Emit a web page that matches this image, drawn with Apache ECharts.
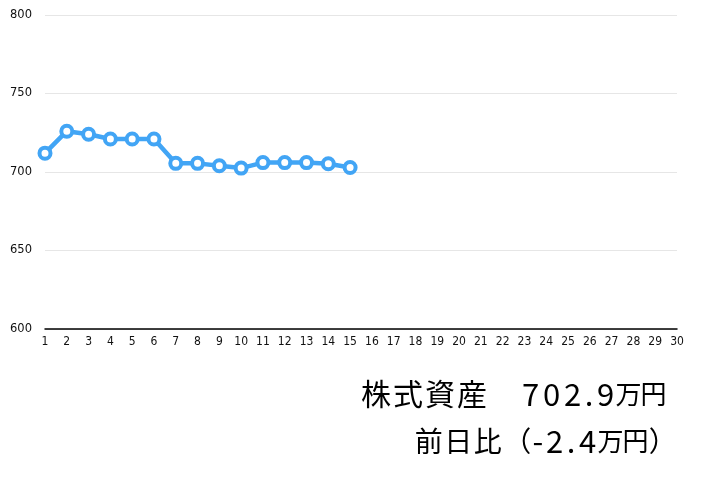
<!DOCTYPE html>
<html>
<head>
<meta charset="utf-8">
<script src="https://cdn.jsdelivr.net/npm/echarts@6/dist/echarts.min.js"></script>
<style>
  html, body { margin: 0; padding: 0; background: #fff; }
  #chart { width: 708px; height: 477px; }
</style>
</head>
<body>
<div id="chart"></div>
<script>
// 日付 (1日〜30日)
var days = [];
for (var d = 1; d <= 30; d++) { days.push(String(d)); }

// 株式資産の推移 (万円)
var assetValues = [712, 726, 724, 721, 721, 721, 705.5, 705.5, 704, 702.5, 706, 706, 706, 705.3, 702.9];

var yTicks = [600, 650, 700, 750, 800];

var totalText = '株式資産　702.9万円';
var diffText = '前日比（-2.4万円）';

// 1文字ずつ rich のスタイル名をつける（数字は字間を広めに）
var toRich = function (str, big) {
    var out = '';
    for (var i = 0; i < str.length; i++) {
        var ch = str.charAt(i);
        var key;
        if (/[0-9]/.test(ch)) key = 'd';
        else if (ch === '.') key = 'p';
        else if (ch === '-') key = 'm';
        else if (ch === '万' || ch === '円') key = 'u';
        else key = big ? 'k' : 'k2';
        out += '{' + key + '|' + ch + '}';
    }
    return out;
};

var cjkFont = '"Noto Sans CJK JP", sans-serif';
var numFont = '"DejaVu Sans", sans-serif';
var richStyles = {
    k: { fontSize: 30, fontFamily: cjkFont, width: 32, align: 'center', verticalAlign: 'middle', lineHeight: 40, color: '#111' },
    k2: { fontSize: 28, fontFamily: cjkFont, width: 29.5, align: 'center', verticalAlign: 'middle', lineHeight: 40, color: '#111' },
    u: { fontSize: 26, fontFamily: cjkFont, width: 25, align: 'center', verticalAlign: 'middle', lineHeight: 40, color: '#111' },
    d: { fontSize: 31, fontFamily: cjkFont, width: 21, align: 'center', verticalAlign: 'middle', lineHeight: 40, color: '#111' },
    p: { fontSize: 31, fontFamily: cjkFont, width: 12, align: 'center', verticalAlign: 'middle', lineHeight: 40, color: '#111' },
    m: { fontSize: 31, fontFamily: cjkFont, width: 12, align: 'center', verticalAlign: 'middle', lineHeight: 40, color: '#111' }
};

var myChart = echarts.init(document.getElementById('chart'));
var option = {
    animation: false,
    grid: { left: 45, right: 31, top: 15, bottom: 148 },
    xAxis: {
        type: 'category',
        data: days,
        boundaryGap: false,
        axisLine: { lineStyle: { color: '#000', width: 1.5 } },
        axisTick: { show: false },
        axisLabel: {
            color: '#111',
            fontSize: 12,
            margin: 7,
            interval: 0,
            fontFamily: '"Liberation Sans Narrow", "DejaVu Sans Condensed", sans-serif'
        }
    },
    yAxis: {
        type: 'value',
        min: yTicks[0],
        max: yTicks[yTicks.length - 1],
        interval: 50,
        axisLine: { show: false },
        axisTick: { show: false },
        splitLine: { lineStyle: { color: '#e6e6e6', width: 1 } },
        axisLabel: { color: '#111', fontSize: 11.5, margin: 13, fontFamily: numFont }
    },
    series: [{
        type: 'line',
        data: assetValues,
        symbol: 'circle',
        symbolSize: 11,
        lineStyle: { color: '#42a5f5', width: 4.5 },
        itemStyle: { color: '#fff', borderColor: '#42a5f5', borderWidth: 4 }
    }],
    graphic: [
        {
            type: 'text',
            x: 360,
            y: 394,
            style: {
                text: toRich(totalText, true),
                rich: richStyles,
                verticalAlign: 'middle'
            }
        },
        {
            type: 'text',
            x: 414,
            y: 441,
            style: {
                text: toRich(diffText, false),
                rich: richStyles,
                verticalAlign: 'middle'
            }
        }
    ]
};
myChart.setOption(option);
</script>
</body>
</html>
